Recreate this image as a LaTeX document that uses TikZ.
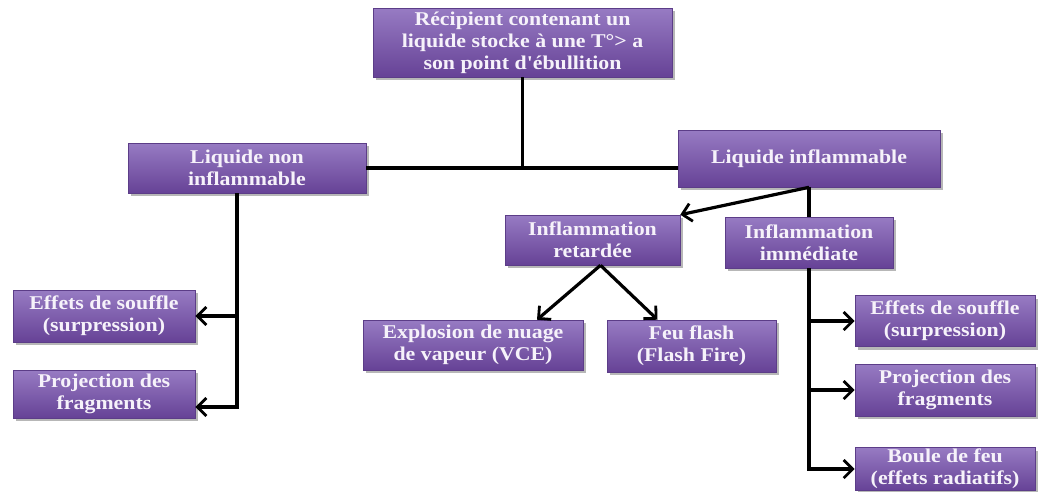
\documentclass[tikz,border=0pt]{standalone}
\usepackage{fontspec}
\newfontfamily\bxfont{Liberation Serif}[FakeStretch=1.12]
\usetikzlibrary{arrows.meta,shadows,calc}
\definecolor{boxtop}{HTML}{977BC3}
\definecolor{boxmid}{HTML}{7E58AF}
\definecolor{boxbot}{HTML}{664296}
\definecolor{boxedge}{HTML}{5C3D88}
\definecolor{boxtext}{HTML}{F6F2FA}
\tikzset{
  box/.style={draw=boxedge, line width=0.6pt, top color=boxtop, middle color=boxmid, bottom color=boxbot,
    text=boxtext, align=center, inner sep=0pt,
    font=\bxfont\bfseries\fontsize{19.5}{22}\selectfont,
    drop shadow={shadow xshift=2.5pt, shadow yshift=-3pt, opacity=0.4, fill=black!70}},
  conn/.style={draw=black, line width=3.2pt},
  arr/.style={conn, -{Straight Barb[length=9pt,width=18pt,line width=2.8pt]}}
}
\begin{document}
\begin{tikzpicture}[x=1pt,y=-1pt]
\useasboundingbox[fill=white] (0,0) rectangle (1038,491);
% boxes
\node[box, minimum width=299pt, minimum height=69pt] (top) at (522.5,42.5) {Récipient contenant un\\liquide stocke à une T°> a\\son point d'ébullition};
\node[box, minimum width=238pt, minimum height=50pt] (lnon) at (247,168) {Liquide non\\inflammable};
\node[box, minimum width=262pt, minimum height=57pt] (linf) at (809,158.5) {Liquide inflammable};
\node[box, minimum width=175pt, minimum height=50pt] (iret) at (592.5,240) {Inflammation\\retardée};
\node[box, minimum width=168pt, minimum height=51pt] (iimm) at (809,242.5) {Inflammation\\immédiate};
\node[box, minimum width=220pt, minimum height=50pt] (expl) at (473,345) {Explosion de nuage\\de vapeur (VCE)};
\node[box, minimum width=169pt, minimum height=52pt] (feu) at (691.5,346) {Feu flash\\(Flash Fire)};
\node[box, minimum width=182pt, minimum height=52pt] (leff) at (104,316) {Effets de souffle\\(surpression)};
\node[box, minimum width=182pt, minimum height=48pt] (lproj) at (104,394) {Projection des\\fragments};
\node[box, minimum width=180pt, minimum height=51pt] (reff) at (945,321) {Effets de souffle\\(surpression)};
\node[box, minimum width=180pt, minimum height=52pt] (rproj) at (945,390) {Projection des\\fragments};
\node[box, minimum width=180pt, minimum height=43pt] (rboule) at (945,469) {Boule de feu\\(effets radiatifs)};
% connectors
\draw[conn] (top.south) -- (top.south |- lnon.east);
\draw[conn] (lnon.east) -- (lnon.east -| linf.west);
\coordinate (lv) at (237,407);
\draw[arr] (lnon.south -| lv) -- (lv) -- (lv -| lproj.east);
\draw[arr] (lv |- leff.east) -- (leff.east);
\draw[conn] (linf.south) -- (iimm.north);
\draw[arr] (linf.south) -- (iret.north east);
\draw[arr] ([xshift=8pt]iret.south) -- ([xshift=64pt]expl.north);
\draw[arr] ([xshift=8pt]iret.south) -- ([xshift=-34pt]feu.north);
\coordinate (rv) at (809,469);
\draw[arr] (iimm.south) -- (rv) -- (rboule.west);
\draw[arr] (rv |- reff.west) -- (reff.west);
\draw[arr] (rv |- rproj.west) -- (rproj.west);
\end{tikzpicture}
\end{document}
